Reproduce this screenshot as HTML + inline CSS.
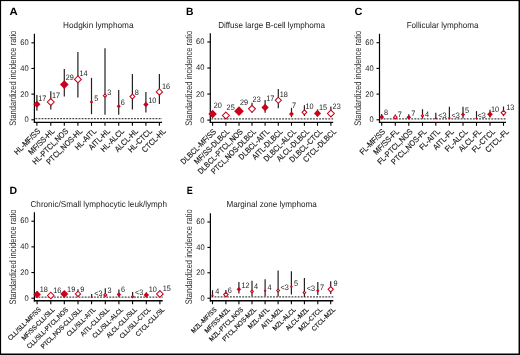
<!DOCTYPE html>
<html><head><meta charset="utf-8"><style>
html,body{margin:0;padding:0;background:#fff;}
svg{display:block;will-change:transform;text-rendering:geometricPrecision;}
</style></head><body>
<svg width="520" height="355" viewBox="0 0 520 355" font-family='"Liberation Sans", sans-serif'>
<rect x="0" y="0" width="520" height="355" fill="#fff"/>
<text transform="translate(9.5,14.7) scale(1.08,1)" font-size="10.5" font-weight="bold">A</text>
<text x="63.1" y="28.1" font-size="8.6" textLength="70.4" lengthAdjust="spacingAndGlyphs" fill="#222">Hodgkin lymphoma</text>
<text transform="translate(16.2,78.2) rotate(-90)" text-anchor="middle" font-size="9.5" textLength="95" lengthAdjust="spacingAndGlyphs" fill="#333">Standardized incidence ratio</text>
<line x1="34.4" y1="33.8" x2="34.4" y2="123.05" stroke="#000" stroke-width="1.2"/>
<line x1="33.8" y1="122.4" x2="162.1" y2="122.4" stroke="#000" stroke-width="1.3"/>
<line x1="31.4" y1="119.8" x2="34.4" y2="119.8" stroke="#000" stroke-width="1.1"/>
<text transform="translate(28.6,122.4) scale(0.93,1)" font-size="8.1" text-anchor="end" fill="#222">0</text>
<line x1="31.4" y1="94.14" x2="34.4" y2="94.14" stroke="#000" stroke-width="1.1"/>
<text transform="translate(28.6,96.74) scale(0.93,1)" font-size="8.1" text-anchor="end" fill="#222">20</text>
<line x1="31.4" y1="68.48" x2="34.4" y2="68.48" stroke="#000" stroke-width="1.1"/>
<text transform="translate(28.6,70.63) scale(0.93,1)" font-size="8.1" text-anchor="end" fill="#222">40</text>
<line x1="31.4" y1="42.82" x2="34.4" y2="42.82" stroke="#000" stroke-width="1.1"/>
<text transform="translate(28.6,44.97) scale(0.93,1)" font-size="8.1" text-anchor="end" fill="#222">60</text>
<line x1="35.4" y1="118.7" x2="162.1" y2="118.7" stroke="#4a4a4a" stroke-width="1.2" stroke-dasharray="1.9 1.18"/>
<line x1="36.9" y1="122.4" x2="36.9" y2="125.8" stroke="#000" stroke-width="1.1"/>
<text transform="translate(40.8,131.7) rotate(-45) scale(0.89,1)" text-anchor="end" font-size="8.0" fill="#111" stroke="#111" stroke-width="0.15">HL-MF/SS</text>
<line x1="36.9" y1="95" x2="36.9" y2="110.8" stroke="#222" stroke-width="1.2"/>
<path d="M36.9 100.65L40.45 104.2L36.9 107.75L33.35 104.2Z" fill="#cb0019"/>
<text transform="translate(38.19,101) scale(0.925,1)" font-size="7.9" fill="#222">17</text>
<line x1="50.8" y1="122.4" x2="50.8" y2="125.8" stroke="#000" stroke-width="1.1"/>
<text transform="translate(55.03,131.7) rotate(-45) scale(0.89,1)" text-anchor="end" font-size="8.0" fill="#111" stroke="#111" stroke-width="0.15">MF/SS-HL</text>
<line x1="50.8" y1="91.2" x2="50.8" y2="109.6" stroke="#222" stroke-width="1.2"/>
<path d="M50.8 98.55L54.25 102L50.8 105.45L47.35 102Z" fill="#fff" stroke="#cb0019" stroke-width="1.05"/>
<text transform="translate(51.89,98.3) scale(0.925,1)" font-size="7.9" fill="#222">17</text>
<line x1="64.3" y1="122.4" x2="64.3" y2="125.8" stroke="#000" stroke-width="1.1"/>
<text transform="translate(68.86,131.7) rotate(-45) scale(0.89,1)" text-anchor="end" font-size="8.0" fill="#111" stroke="#111" stroke-width="0.15">HL-PTCL,NOS</text>
<line x1="64.3" y1="69.1" x2="64.3" y2="96.5" stroke="#222" stroke-width="1.2"/>
<path d="M64.3 80.25L68.65 84.6L64.3 88.95L59.95 84.6Z" fill="#cb0019"/>
<text transform="translate(65.78,80.3) scale(0.925,1)" font-size="7.9" fill="#222">29</text>
<line x1="77.9" y1="122.4" x2="77.9" y2="125.8" stroke="#000" stroke-width="1.1"/>
<text transform="translate(82.79,131.7) rotate(-45) scale(0.89,1)" text-anchor="end" font-size="8.0" fill="#111" stroke="#111" stroke-width="0.15">PTCL,NOS-HL</text>
<line x1="77.9" y1="52" x2="77.9" y2="97.5" stroke="#222" stroke-width="1.2"/>
<path d="M77.9 75.95L81.35 79.4L77.9 82.85L74.45 79.4Z" fill="#fff" stroke="#cb0019" stroke-width="1.05"/>
<text transform="translate(79.49,76.2) scale(0.925,1)" font-size="7.9" fill="#222">14</text>
<line x1="91.5" y1="122.4" x2="91.5" y2="125.8" stroke="#000" stroke-width="1.1"/>
<text transform="translate(96.72,131.7) rotate(-45) scale(0.89,1)" text-anchor="end" font-size="8.0" fill="#111" stroke="#111" stroke-width="0.15">HL-AITL</text>
<line x1="91.5" y1="77.9" x2="91.5" y2="114.2" stroke="#222" stroke-width="1.2"/>
<path d="M91.5 100.15L93.25 101.9L91.5 103.65L89.75 101.9Z" fill="#cb0019"/>
<text transform="translate(94.36,100.6) scale(0.925,1)" font-size="7.9" fill="#222">5</text>
<line x1="105" y1="122.4" x2="105" y2="125.8" stroke="#000" stroke-width="1.1"/>
<text transform="translate(110.55,131.7) rotate(-45) scale(0.89,1)" text-anchor="end" font-size="8.0" fill="#111" stroke="#111" stroke-width="0.15">AITL-HL</text>
<line x1="105" y1="48.3" x2="105" y2="114.7" stroke="#222" stroke-width="1.2"/>
<path d="M105 94.05L106.65 95.7L105 97.35L103.35 95.7Z" fill="#fff" stroke="#cb0019" stroke-width="1.05"/>
<text transform="translate(107.27,94.8) scale(0.925,1)" font-size="7.9" fill="#222">3</text>
<line x1="118.7" y1="122.4" x2="118.7" y2="125.8" stroke="#000" stroke-width="1.1"/>
<text transform="translate(124.58,131.7) rotate(-45) scale(0.89,1)" text-anchor="end" font-size="8.0" fill="#111" stroke="#111" stroke-width="0.15">HL-ALCL</text>
<line x1="118.7" y1="90" x2="118.7" y2="114.7" stroke="#222" stroke-width="1.2"/>
<path d="M118.7 104.25L120.75 106.3L118.7 108.35L116.65 106.3Z" fill="#cb0019"/>
<text transform="translate(120.78,104.9) scale(0.925,1)" font-size="7.9" fill="#222">6</text>
<line x1="132.4" y1="122.4" x2="132.4" y2="125.8" stroke="#000" stroke-width="1.1"/>
<text transform="translate(138.61,131.7) rotate(-45) scale(0.89,1)" text-anchor="end" font-size="8.0" fill="#111" stroke="#111" stroke-width="0.15">ALCL-HL</text>
<line x1="132.4" y1="73.9" x2="132.4" y2="109.6" stroke="#222" stroke-width="1.2"/>
<path d="M132.4 94.15L134.85 96.6L132.4 99.05L129.95 96.6Z" fill="#fff" stroke="#cb0019" stroke-width="1.05"/>
<text transform="translate(134.64,95.1) scale(0.925,1)" font-size="7.9" fill="#222">8</text>
<line x1="145.9" y1="122.4" x2="145.9" y2="125.8" stroke="#000" stroke-width="1.1"/>
<text transform="translate(152.44,131.7) rotate(-45) scale(0.89,1)" text-anchor="end" font-size="8.0" fill="#111" stroke="#111" stroke-width="0.15">HL-CTCL</text>
<line x1="145.9" y1="91.9" x2="145.9" y2="112.4" stroke="#222" stroke-width="1.2"/>
<path d="M145.9 101.85L148.55 104.5L145.9 107.15L143.25 104.5Z" fill="#cb0019"/>
<text transform="translate(148.29,102.5) scale(0.925,1)" font-size="7.9" fill="#222">10</text>
<line x1="159.4" y1="122.4" x2="159.4" y2="125.8" stroke="#000" stroke-width="1.1"/>
<text transform="translate(166.27,131.7) rotate(-45) scale(0.89,1)" text-anchor="end" font-size="8.0" fill="#111" stroke="#111" stroke-width="0.15">CTCL-HL</text>
<line x1="159.4" y1="74.1" x2="159.4" y2="103.9" stroke="#222" stroke-width="1.2"/>
<path d="M159.4 88.75L162.55 91.9L159.4 95.05L156.25 91.9Z" fill="#fff" stroke="#cb0019" stroke-width="1.05"/>
<text transform="translate(161.99,88.9) scale(0.925,1)" font-size="7.9" fill="#222">16</text>
<text transform="translate(185.9,14.7) scale(0.98,1)" font-size="10.5" font-weight="bold">B</text>
<text x="218.2" y="28.1" font-size="8.6" textLength="106.7" lengthAdjust="spacingAndGlyphs" fill="#222">Diffuse large B-cell lymphoma</text>
<text transform="translate(192.4,78.3) rotate(-90)" text-anchor="middle" font-size="9.5" textLength="95" lengthAdjust="spacingAndGlyphs" fill="#333">Standardized incidence ratio</text>
<line x1="210.3" y1="33.2" x2="210.3" y2="122.95" stroke="#000" stroke-width="1.2"/>
<line x1="209.7" y1="122.3" x2="333.2" y2="122.3" stroke="#000" stroke-width="1.3"/>
<line x1="207.3" y1="120.1" x2="210.3" y2="120.1" stroke="#000" stroke-width="1.1"/>
<text transform="translate(204.5,122.7) scale(0.93,1)" font-size="8.1" text-anchor="end" fill="#222">0</text>
<line x1="207.3" y1="94.06" x2="210.3" y2="94.06" stroke="#000" stroke-width="1.1"/>
<text transform="translate(204.5,96.66) scale(0.93,1)" font-size="8.1" text-anchor="end" fill="#222">20</text>
<line x1="207.3" y1="68.02" x2="210.3" y2="68.02" stroke="#000" stroke-width="1.1"/>
<text transform="translate(204.5,70.17) scale(0.93,1)" font-size="8.1" text-anchor="end" fill="#222">40</text>
<line x1="207.3" y1="41.98" x2="210.3" y2="41.98" stroke="#000" stroke-width="1.1"/>
<text transform="translate(204.5,44.13) scale(0.93,1)" font-size="8.1" text-anchor="end" fill="#222">60</text>
<line x1="211.3" y1="118.9" x2="333.2" y2="118.9" stroke="#4a4a4a" stroke-width="1.2" stroke-dasharray="1.9 1.18"/>
<line x1="212.6" y1="122.3" x2="212.6" y2="125.7" stroke="#000" stroke-width="1.1"/>
<text transform="translate(216.6,132.1) rotate(-45) scale(0.875,1)" text-anchor="end" font-size="8.0" fill="#111" stroke="#111" stroke-width="0.15">DLBCL-MF/SS</text>
<line x1="212.6" y1="111" x2="212.6" y2="117" stroke="#222" stroke-width="1.2"/>
<path d="M212.6 109.75L216.85 114L212.6 118.25L208.35 114Z" fill="#cb0019"/>
<text transform="translate(213.68,107.9) scale(0.925,1)" font-size="7.9" fill="#222">20</text>
<line x1="225.9" y1="122.3" x2="225.9" y2="125.7" stroke="#000" stroke-width="1.1"/>
<text transform="translate(230.1,132.1) rotate(-45) scale(0.875,1)" text-anchor="end" font-size="8.0" fill="#111" stroke="#111" stroke-width="0.15">MF/SS-DLBCL</text>
<line x1="225.9" y1="113" x2="225.9" y2="118" stroke="#222" stroke-width="1.2"/>
<path d="M225.9 112.05L229.35 115.5L225.9 118.95L222.45 115.5Z" fill="#fff" stroke="#cb0019" stroke-width="1.05"/>
<text transform="translate(226.58,109.6) scale(0.925,1)" font-size="7.9" fill="#222">25</text>
<line x1="239" y1="122.3" x2="239" y2="125.7" stroke="#000" stroke-width="1.1"/>
<text transform="translate(243.4,132.1) rotate(-45) scale(0.875,1)" text-anchor="end" font-size="8.0" fill="#111" stroke="#111" stroke-width="0.15">DLBCL-PTCL,NOS</text>
<line x1="239" y1="108" x2="239" y2="114.5" stroke="#222" stroke-width="1.2"/>
<path d="M239 106.35L243.85 111.2L239 116.05L234.15 111.2Z" fill="#cb0019"/>
<text transform="translate(239.88,104.8) scale(0.925,1)" font-size="7.9" fill="#222">29</text>
<line x1="252" y1="122.3" x2="252" y2="125.7" stroke="#000" stroke-width="1.1"/>
<text transform="translate(256.6,132.1) rotate(-45) scale(0.875,1)" text-anchor="end" font-size="8.0" fill="#111" stroke="#111" stroke-width="0.15">PTCL,NOS-DLBCL</text>
<line x1="252" y1="102.7" x2="252" y2="112.7" stroke="#222" stroke-width="1.2"/>
<path d="M252 105.35L255.45 108.8L252 112.25L248.55 108.8Z" fill="#fff" stroke="#cb0019" stroke-width="1.05"/>
<text transform="translate(252.58,102.1) scale(0.925,1)" font-size="7.9" fill="#222">23</text>
<line x1="265.1" y1="122.3" x2="265.1" y2="125.7" stroke="#000" stroke-width="1.1"/>
<text transform="translate(269.9,132.1) rotate(-45) scale(0.875,1)" text-anchor="end" font-size="8.0" fill="#111" stroke="#111" stroke-width="0.15">DLBCL-AITL</text>
<line x1="265.1" y1="100" x2="265.1" y2="112.7" stroke="#222" stroke-width="1.2"/>
<path d="M265.1 103.85L268.75 107.5L265.1 111.15L261.45 107.5Z" fill="#cb0019"/>
<text transform="translate(266.19,100.5) scale(0.925,1)" font-size="7.9" fill="#222">17</text>
<line x1="278.3" y1="122.3" x2="278.3" y2="125.7" stroke="#000" stroke-width="1.1"/>
<text transform="translate(283.3,132.1) rotate(-45) scale(0.875,1)" text-anchor="end" font-size="8.0" fill="#111" stroke="#111" stroke-width="0.15">AITL-DLBCL</text>
<line x1="278.3" y1="88.9" x2="278.3" y2="108.2" stroke="#222" stroke-width="1.2"/>
<path d="M278.3 97.25L281.35 100.3L278.3 103.35L275.25 100.3Z" fill="#fff" stroke="#cb0019" stroke-width="1.05"/>
<text transform="translate(279.79,97.3) scale(0.925,1)" font-size="7.9" fill="#222">18</text>
<line x1="291.5" y1="122.3" x2="291.5" y2="125.7" stroke="#000" stroke-width="1.1"/>
<text transform="translate(296.7,132.1) rotate(-45) scale(0.875,1)" text-anchor="end" font-size="8.0" fill="#111" stroke="#111" stroke-width="0.15">DLBCL-ALCL</text>
<line x1="291.5" y1="107.8" x2="291.5" y2="117.2" stroke="#222" stroke-width="1.2"/>
<path d="M291.5 111.55L293.95 114L291.5 116.45L289.05 114Z" fill="#cb0019"/>
<text transform="translate(292.08,108.4) scale(0.925,1)" font-size="7.9" fill="#222">7</text>
<line x1="304.4" y1="122.3" x2="304.4" y2="125.7" stroke="#000" stroke-width="1.1"/>
<text transform="translate(309.8,132.1) rotate(-45) scale(0.875,1)" text-anchor="end" font-size="8.0" fill="#111" stroke="#111" stroke-width="0.15">ALCL-DLBCL</text>
<line x1="304.4" y1="105.2" x2="304.4" y2="115.9" stroke="#222" stroke-width="1.2"/>
<path d="M304.4 109.95L306.75 112.3L304.4 114.65L302.05 112.3Z" fill="#fff" stroke="#cb0019" stroke-width="1.05"/>
<text transform="translate(305.49,108.5) scale(0.925,1)" font-size="7.9" fill="#222">10</text>
<line x1="317.5" y1="122.3" x2="317.5" y2="125.7" stroke="#000" stroke-width="1.1"/>
<text transform="translate(323.1,132.1) rotate(-45) scale(0.875,1)" text-anchor="end" font-size="8.0" fill="#111" stroke="#111" stroke-width="0.15">DLBCL-CTCL</text>
<line x1="317.5" y1="109.4" x2="317.5" y2="116.4" stroke="#222" stroke-width="1.2"/>
<path d="M317.5 109.85L321.05 113.4L317.5 116.95L313.95 113.4Z" fill="#cb0019"/>
<text transform="translate(318.89,109.6) scale(0.925,1)" font-size="7.9" fill="#222">15</text>
<line x1="330.9" y1="122.3" x2="330.9" y2="125.7" stroke="#000" stroke-width="1.1"/>
<text transform="translate(336.7,132.1) rotate(-45) scale(0.875,1)" text-anchor="end" font-size="8.0" fill="#111" stroke="#111" stroke-width="0.15">CTCL-DLBCL</text>
<line x1="330.9" y1="106.5" x2="330.9" y2="116.9" stroke="#222" stroke-width="1.2"/>
<path d="M330.9 110.05L334.35 113.5L330.9 116.95L327.45 113.5Z" fill="#fff" stroke="#cb0019" stroke-width="1.05"/>
<text transform="translate(332.58,109.2) scale(0.925,1)" font-size="7.9" fill="#222">23</text>
<text transform="translate(354.5,14.7) scale(1.04,1)" font-size="10.5" font-weight="bold">C</text>
<text x="406.7" y="28.1" font-size="8.6" textLength="71.7" lengthAdjust="spacingAndGlyphs" fill="#222">Follicular lymphoma</text>
<text transform="translate(361,78.3) rotate(-90)" text-anchor="middle" font-size="9.5" textLength="95" lengthAdjust="spacingAndGlyphs" fill="#333">Standardized incidence ratio</text>
<line x1="379.5" y1="33.8" x2="379.5" y2="123.05" stroke="#000" stroke-width="1.2"/>
<line x1="378.9" y1="122.4" x2="506" y2="122.4" stroke="#000" stroke-width="1.3"/>
<line x1="376.5" y1="119.8" x2="379.5" y2="119.8" stroke="#000" stroke-width="1.1"/>
<text transform="translate(373.7,122.4) scale(0.93,1)" font-size="8.1" text-anchor="end" fill="#222">0</text>
<line x1="376.5" y1="94.1" x2="379.5" y2="94.1" stroke="#000" stroke-width="1.1"/>
<text transform="translate(373.7,96.7) scale(0.93,1)" font-size="8.1" text-anchor="end" fill="#222">20</text>
<line x1="376.5" y1="68.4" x2="379.5" y2="68.4" stroke="#000" stroke-width="1.1"/>
<text transform="translate(373.7,70.55) scale(0.93,1)" font-size="8.1" text-anchor="end" fill="#222">40</text>
<line x1="376.5" y1="42.7" x2="379.5" y2="42.7" stroke="#000" stroke-width="1.1"/>
<text transform="translate(373.7,44.85) scale(0.93,1)" font-size="8.1" text-anchor="end" fill="#222">60</text>
<line x1="380.5" y1="118.9" x2="506" y2="118.9" stroke="#4a4a4a" stroke-width="1.2" stroke-dasharray="1.9 1.18"/>
<line x1="381.7" y1="122.4" x2="381.7" y2="125.8" stroke="#000" stroke-width="1.1"/>
<text transform="translate(385.7,132.2) rotate(-45) scale(0.89,1)" text-anchor="end" font-size="8.0" fill="#111" stroke="#111" stroke-width="0.15">FL-MF/SS</text>
<line x1="381.7" y1="114.1" x2="381.7" y2="119" stroke="#222" stroke-width="1.2"/>
<path d="M381.7 114.55L384.15 117L381.7 119.45L379.25 117Z" fill="#cb0019"/>
<text transform="translate(383.94,115.3) scale(0.925,1)" font-size="7.9" fill="#222">8</text>
<line x1="395.3" y1="122.4" x2="395.3" y2="125.8" stroke="#000" stroke-width="1.1"/>
<text transform="translate(399.5,132.2) rotate(-45) scale(0.89,1)" text-anchor="end" font-size="8.0" fill="#111" stroke="#111" stroke-width="0.15">MF/SS-FL</text>
<line x1="395.3" y1="114.4" x2="395.3" y2="119" stroke="#222" stroke-width="1.2"/>
<path d="M395.3 115.45L397.05 117.2L395.3 118.95L393.55 117.2Z" fill="#fff" stroke="#cb0019" stroke-width="1.05"/>
<text transform="translate(397.68,117) scale(0.925,1)" font-size="7.9" fill="#222">7</text>
<line x1="408.8" y1="122.4" x2="408.8" y2="125.8" stroke="#000" stroke-width="1.1"/>
<text transform="translate(413.2,132.2) rotate(-45) scale(0.89,1)" text-anchor="end" font-size="8.0" fill="#111" stroke="#111" stroke-width="0.15">FL-PTCL,NOS</text>
<line x1="408.8" y1="114.3" x2="408.8" y2="119" stroke="#222" stroke-width="1.2"/>
<path d="M408.8 114.95L411.15 117.3L408.8 119.65L406.45 117.3Z" fill="#cb0019"/>
<text transform="translate(411.28,116.1) scale(0.925,1)" font-size="7.9" fill="#222">7</text>
<line x1="422.5" y1="122.4" x2="422.5" y2="125.8" stroke="#000" stroke-width="1.1"/>
<text transform="translate(427.1,132.2) rotate(-45) scale(0.89,1)" text-anchor="end" font-size="8.0" fill="#111" stroke="#111" stroke-width="0.15">PTCL,NOS-FL</text>
<line x1="422.5" y1="109.2" x2="422.5" y2="118.7" stroke="#222" stroke-width="1.2"/>
<path d="M422.5 114.65L423.65 115.8L422.5 116.95L421.35 115.8Z" fill="#fff" stroke="#cb0019" stroke-width="1.05"/>
<text transform="translate(425.08,116.7) scale(0.925,1)" font-size="7.9" fill="#222">4</text>
<line x1="435.8" y1="122.4" x2="435.8" y2="125.8" stroke="#000" stroke-width="1.1"/>
<text transform="translate(440.6,132.2) rotate(-45) scale(0.89,1)" text-anchor="end" font-size="8.0" fill="#111" stroke="#111" stroke-width="0.15">FL-AITL</text>
<line x1="435.8" y1="112.8" x2="435.8" y2="119" stroke="#222" stroke-width="1.2"/>
<path d="M435.8 116.95L437.05 118.2L435.8 119.45L434.55 118.2Z" fill="#cb0019"/>
<text transform="translate(438.19,117.5) scale(0.925,1)" font-size="7.9" fill="#222">&lt;3</text>
<line x1="449.4" y1="122.4" x2="449.4" y2="125.8" stroke="#000" stroke-width="1.1"/>
<text transform="translate(454.4,132.2) rotate(-45) scale(0.89,1)" text-anchor="end" font-size="8.0" fill="#111" stroke="#111" stroke-width="0.15">AITL-FL</text>
<line x1="449.4" y1="106.8" x2="449.4" y2="119" stroke="#222" stroke-width="1.2"/>
<path d="M449.4 117.45L450.05 118.1L449.4 118.75L448.75 118.1Z" fill="#fff" stroke="#cb0019" stroke-width="1.05"/>
<text transform="translate(451.39,117.5) scale(0.925,1)" font-size="7.9" fill="#222">&lt;3</text>
<line x1="463" y1="122.4" x2="463" y2="125.8" stroke="#000" stroke-width="1.1"/>
<text transform="translate(468.2,132.2) rotate(-45) scale(0.89,1)" text-anchor="end" font-size="8.0" fill="#111" stroke="#111" stroke-width="0.15">FL-ALCL</text>
<line x1="463" y1="106.8" x2="463" y2="118.2" stroke="#222" stroke-width="1.2"/>
<path d="M463 112.45L465.05 114.5L463 116.55L460.95 114.5Z" fill="#cb0019"/>
<text transform="translate(465.06,113.4) scale(0.925,1)" font-size="7.9" fill="#222">5</text>
<line x1="476.5" y1="122.4" x2="476.5" y2="125.8" stroke="#000" stroke-width="1.1"/>
<text transform="translate(481.9,132.2) rotate(-45) scale(0.89,1)" text-anchor="end" font-size="8.0" fill="#111" stroke="#111" stroke-width="0.15">ALCL-FL</text>
<line x1="476.5" y1="111.1" x2="476.5" y2="119" stroke="#222" stroke-width="1.2"/>
<path d="M476.5 118.1L477 118.6L476.5 119.1L476 118.6Z" fill="#fff" stroke="#cb0019" stroke-width="1.05"/>
<text transform="translate(477.59,117.6) scale(0.925,1)" font-size="7.9" fill="#222">&lt;3</text>
<line x1="490" y1="122.4" x2="490" y2="125.8" stroke="#000" stroke-width="1.1"/>
<text transform="translate(495.6,132.2) rotate(-45) scale(0.89,1)" text-anchor="end" font-size="8.0" fill="#111" stroke="#111" stroke-width="0.15">FL-CTCL</text>
<line x1="490" y1="109.8" x2="490" y2="117.5" stroke="#222" stroke-width="1.2"/>
<path d="M490 111.45L492.85 114.3L490 117.15L487.15 114.3Z" fill="#cb0019"/>
<text transform="translate(490.89,111.7) scale(0.925,1)" font-size="7.9" fill="#222">10</text>
<line x1="503.5" y1="122.4" x2="503.5" y2="125.8" stroke="#000" stroke-width="1.1"/>
<text transform="translate(509.3,132.2) rotate(-45) scale(0.89,1)" text-anchor="end" font-size="8.0" fill="#111" stroke="#111" stroke-width="0.15">CTCL-FL</text>
<line x1="503.5" y1="106.5" x2="503.5" y2="116.2" stroke="#222" stroke-width="1.2"/>
<path d="M503.5 110.45L505.85 112.8L503.5 115.15L501.15 112.8Z" fill="#fff" stroke="#cb0019" stroke-width="1.05"/>
<text transform="translate(506.19,110.4) scale(0.925,1)" font-size="7.9" fill="#222">13</text>
<text transform="translate(9.5,193.6) scale(1.0,1)" font-size="10.5" font-weight="bold">D</text>
<text x="30.5" y="207.3" font-size="8.6" textLength="136.4" lengthAdjust="spacingAndGlyphs" fill="#222">Chronic/Small lymphocytic leuk/lymph</text>
<text transform="translate(16.2,257.1) rotate(-90)" text-anchor="middle" font-size="9.5" textLength="95" lengthAdjust="spacingAndGlyphs" fill="#333">Standardized incidence ratio</text>
<line x1="34.4" y1="212.3" x2="34.4" y2="301.4" stroke="#000" stroke-width="1.2"/>
<line x1="33.8" y1="300.75" x2="162.7" y2="300.75" stroke="#000" stroke-width="1.6"/>
<line x1="31.4" y1="298.2" x2="34.4" y2="298.2" stroke="#000" stroke-width="1.1"/>
<text transform="translate(28.6,300.8) scale(0.93,1)" font-size="8.1" text-anchor="end" fill="#222">0</text>
<line x1="31.4" y1="272.54" x2="34.4" y2="272.54" stroke="#000" stroke-width="1.1"/>
<text transform="translate(28.6,275.14) scale(0.93,1)" font-size="8.1" text-anchor="end" fill="#222">20</text>
<line x1="31.4" y1="246.88" x2="34.4" y2="246.88" stroke="#000" stroke-width="1.1"/>
<text transform="translate(28.6,249.03) scale(0.93,1)" font-size="8.1" text-anchor="end" fill="#222">40</text>
<line x1="31.4" y1="221.22" x2="34.4" y2="221.22" stroke="#000" stroke-width="1.1"/>
<text transform="translate(28.6,223.37) scale(0.93,1)" font-size="8.1" text-anchor="end" fill="#222">60</text>
<line x1="35.4" y1="297.2" x2="162.7" y2="297.2" stroke="#4a4a4a" stroke-width="1.2" stroke-dasharray="1.9 1.18"/>
<line x1="37.1" y1="300.75" x2="37.1" y2="304.15" stroke="#000" stroke-width="1.1"/>
<text transform="translate(41.3,310.05) rotate(-45) scale(0.895,1)" text-anchor="end" font-size="6.7" fill="#111" stroke="#111" stroke-width="0.15">CLL/SLL-MF/SS</text>
<line x1="37.1" y1="291" x2="37.1" y2="297.5" stroke="#222" stroke-width="1.2"/>
<path d="M37.1 290.65L40.85 294.4L37.1 298.15L33.35 294.4Z" fill="#cb0019"/>
<text transform="translate(39.69,291.9) scale(0.925,1)" font-size="7.9" fill="#222">18</text>
<line x1="50.8" y1="300.75" x2="50.8" y2="304.15" stroke="#000" stroke-width="1.1"/>
<text transform="translate(55.08,310.05) rotate(-45) scale(0.895,1)" text-anchor="end" font-size="6.7" fill="#111" stroke="#111" stroke-width="0.15">MF/SS-CLL/SLL</text>
<line x1="50.8" y1="293" x2="50.8" y2="298" stroke="#222" stroke-width="1.2"/>
<path d="M50.8 292.25L54.05 295.5L50.8 298.75L47.55 295.5Z" fill="#fff" stroke="#cb0019" stroke-width="1.05"/>
<text transform="translate(53.29,293.2) scale(0.925,1)" font-size="7.9" fill="#222">16</text>
<line x1="64.3" y1="300.75" x2="64.3" y2="304.15" stroke="#000" stroke-width="1.1"/>
<text transform="translate(68.66,310.05) rotate(-45) scale(0.895,1)" text-anchor="end" font-size="6.7" fill="#111" stroke="#111" stroke-width="0.15">CLL/SLL-PTCL,NOS</text>
<line x1="64.3" y1="291" x2="64.3" y2="297" stroke="#222" stroke-width="1.2"/>
<path d="M64.3 289.95L68.35 294L64.3 298.05L60.25 294Z" fill="#cb0019"/>
<text transform="translate(67.09,291.5) scale(0.925,1)" font-size="7.9" fill="#222">19</text>
<line x1="78" y1="300.75" x2="78" y2="304.15" stroke="#000" stroke-width="1.1"/>
<text transform="translate(82.44,310.05) rotate(-45) scale(0.895,1)" text-anchor="end" font-size="6.7" fill="#111" stroke="#111" stroke-width="0.15">PTCL,NOS-CLL/SLL</text>
<line x1="78" y1="289.3" x2="78" y2="297" stroke="#222" stroke-width="1.2"/>
<path d="M78 291.25L80.65 293.9L78 296.55L75.35 293.9Z" fill="#fff" stroke="#cb0019" stroke-width="1.05"/>
<text transform="translate(80.31,291.8) scale(0.925,1)" font-size="7.9" fill="#222">9</text>
<line x1="91.6" y1="300.75" x2="91.6" y2="304.15" stroke="#000" stroke-width="1.1"/>
<text transform="translate(96.12,310.05) rotate(-45) scale(0.895,1)" text-anchor="end" font-size="6.7" fill="#111" stroke="#111" stroke-width="0.15">CLL/SLL-AITL</text>
<line x1="91.6" y1="294" x2="91.6" y2="297.5" stroke="#222" stroke-width="1.2"/>
<path d="M91.6 295.95L92.75 297.1L91.6 298.25L90.45 297.1Z" fill="#cb0019"/>
<text transform="translate(94.19,295.6) scale(0.925,1)" font-size="7.9" fill="#222">&lt;3</text>
<line x1="105.3" y1="300.75" x2="105.3" y2="304.15" stroke="#000" stroke-width="1.1"/>
<text transform="translate(109.9,310.05) rotate(-45) scale(0.895,1)" text-anchor="end" font-size="6.7" fill="#111" stroke="#111" stroke-width="0.15">AITL-CLL/SLL</text>
<line x1="105.3" y1="288.2" x2="105.3" y2="297" stroke="#222" stroke-width="1.2"/>
<path d="M105.3 293.35L106.85 294.9L105.3 296.45L103.75 294.9Z" fill="#fff" stroke="#cb0019" stroke-width="1.05"/>
<text transform="translate(107.47,293.1) scale(0.925,1)" font-size="7.9" fill="#222">3</text>
<line x1="118.9" y1="300.75" x2="118.9" y2="304.15" stroke="#000" stroke-width="1.1"/>
<text transform="translate(123.58,310.05) rotate(-45) scale(0.895,1)" text-anchor="end" font-size="6.7" fill="#111" stroke="#111" stroke-width="0.15">CLL/SLL-ALCL</text>
<line x1="118.9" y1="289.5" x2="118.9" y2="297" stroke="#222" stroke-width="1.2"/>
<path d="M118.9 292.15L121.15 294.4L118.9 296.65L116.65 294.4Z" fill="#cb0019"/>
<text transform="translate(120.98,291.9) scale(0.925,1)" font-size="7.9" fill="#222">6</text>
<line x1="132.6" y1="300.75" x2="132.6" y2="304.15" stroke="#000" stroke-width="1.1"/>
<text transform="translate(137.36,310.05) rotate(-45) scale(0.895,1)" text-anchor="end" font-size="6.7" fill="#111" stroke="#111" stroke-width="0.15">ALCL-CLL/SLL</text>
<line x1="132.6" y1="291.9" x2="132.6" y2="297.5" stroke="#222" stroke-width="1.2"/>
<path d="M132.6 295.65L133.65 296.7L132.6 297.75L131.55 296.7Z" fill="#fff" stroke="#cb0019" stroke-width="1.05"/>
<text transform="translate(135.09,294.8) scale(0.925,1)" font-size="7.9" fill="#222">&lt;3</text>
<line x1="146.3" y1="300.75" x2="146.3" y2="304.15" stroke="#000" stroke-width="1.1"/>
<text transform="translate(151.14,310.05) rotate(-45) scale(0.895,1)" text-anchor="end" font-size="6.7" fill="#111" stroke="#111" stroke-width="0.15">CLL/SLL-CTCL</text>
<line x1="146.3" y1="292.5" x2="146.3" y2="297.5" stroke="#222" stroke-width="1.2"/>
<path d="M146.3 292.35L149.05 295.1L146.3 297.85L143.55 295.1Z" fill="#cb0019"/>
<text transform="translate(148.79,291.6) scale(0.925,1)" font-size="7.9" fill="#222">10</text>
<line x1="159.9" y1="300.75" x2="159.9" y2="304.15" stroke="#000" stroke-width="1.1"/>
<text transform="translate(164.82,310.05) rotate(-45) scale(0.895,1)" text-anchor="end" font-size="6.7" fill="#111" stroke="#111" stroke-width="0.15">CTCL-CLL/SL</text>
<line x1="159.9" y1="291" x2="159.9" y2="297" stroke="#222" stroke-width="1.2"/>
<path d="M159.9 290.55L163.25 293.9L159.9 297.25L156.55 293.9Z" fill="#fff" stroke="#cb0019" stroke-width="1.05"/>
<text transform="translate(162.69,290.6) scale(0.925,1)" font-size="7.9" fill="#222">15</text>
<text transform="translate(186.8,193.6) scale(0.86,1)" font-size="10.5" font-weight="bold">E</text>
<text x="226.4" y="207.4" font-size="8.6" textLength="90.4" lengthAdjust="spacingAndGlyphs" fill="#222">Marginal zone lymphoma</text>
<text transform="translate(192.4,256.8) rotate(-90)" text-anchor="middle" font-size="9.5" textLength="95" lengthAdjust="spacingAndGlyphs" fill="#333">Standardized incidence ratio</text>
<line x1="210.4" y1="213.2" x2="210.4" y2="301.45" stroke="#000" stroke-width="1.2"/>
<line x1="209.8" y1="300.8" x2="333.3" y2="300.8" stroke="#000" stroke-width="1.6"/>
<line x1="207.4" y1="298.2" x2="210.4" y2="298.2" stroke="#000" stroke-width="1.1"/>
<text transform="translate(204.6,300.8) scale(0.93,1)" font-size="8.1" text-anchor="end" fill="#222">0</text>
<line x1="207.4" y1="272.8" x2="210.4" y2="272.8" stroke="#000" stroke-width="1.1"/>
<text transform="translate(204.6,275.4) scale(0.93,1)" font-size="8.1" text-anchor="end" fill="#222">20</text>
<line x1="207.4" y1="247.4" x2="210.4" y2="247.4" stroke="#000" stroke-width="1.1"/>
<text transform="translate(204.6,249.55) scale(0.93,1)" font-size="8.1" text-anchor="end" fill="#222">40</text>
<line x1="207.4" y1="222" x2="210.4" y2="222" stroke="#000" stroke-width="1.1"/>
<text transform="translate(204.6,224.15) scale(0.93,1)" font-size="8.1" text-anchor="end" fill="#222">60</text>
<line x1="211.4" y1="296.8" x2="333.3" y2="296.8" stroke="#4a4a4a" stroke-width="1.2" stroke-dasharray="1.9 1.18"/>
<line x1="212.5" y1="300.8" x2="212.5" y2="304.2" stroke="#000" stroke-width="1.1"/>
<text transform="translate(217.1,310.1) rotate(-45) scale(0.915,1)" text-anchor="end" font-size="6.7" fill="#111" stroke="#111" stroke-width="0.15">MZL-MF/SS</text>
<line x1="212.5" y1="290.2" x2="212.5" y2="297" stroke="#222" stroke-width="1.2"/>
<path d="M212.5 294L213.8 295.3L212.5 296.6L211.2 295.3Z" fill="#cb0019"/>
<text transform="translate(215.28,294.4) scale(0.925,1)" font-size="7.9" fill="#222">4</text>
<line x1="225.9" y1="300.8" x2="225.9" y2="304.2" stroke="#000" stroke-width="1.1"/>
<text transform="translate(230.53,310.1) rotate(-45) scale(0.915,1)" text-anchor="end" font-size="6.7" fill="#111" stroke="#111" stroke-width="0.15">MF/SS-MZL</text>
<line x1="225.9" y1="290" x2="225.9" y2="297" stroke="#222" stroke-width="1.2"/>
<path d="M225.9 292.35L228.15 294.6L225.9 296.85L223.65 294.6Z" fill="#fff" stroke="#cb0019" stroke-width="1.05"/>
<text transform="translate(227.78,292.5) scale(0.925,1)" font-size="7.9" fill="#222">6</text>
<line x1="238.9" y1="300.8" x2="238.9" y2="304.2" stroke="#000" stroke-width="1.1"/>
<text transform="translate(243.56,310.1) rotate(-45) scale(0.915,1)" text-anchor="end" font-size="6.7" fill="#111" stroke="#111" stroke-width="0.15">MZL-PTCL,NOS</text>
<line x1="238.9" y1="282.1" x2="238.9" y2="293.6" stroke="#222" stroke-width="1.2"/>
<path d="M238.9 286.95L241.15 289.2L238.9 291.45L236.65 289.2Z" fill="#cb0019"/>
<text transform="translate(241.39,288) scale(0.925,1)" font-size="7.9" fill="#222">12</text>
<line x1="252" y1="300.8" x2="252" y2="304.2" stroke="#000" stroke-width="1.1"/>
<text transform="translate(256.69,310.1) rotate(-45) scale(0.915,1)" text-anchor="end" font-size="6.7" fill="#111" stroke="#111" stroke-width="0.15">PTCL,NOS-MZL</text>
<line x1="252" y1="280.7" x2="252" y2="296.3" stroke="#222" stroke-width="1.2"/>
<path d="M252 290.05L253.35 291.4L252 292.75L250.65 291.4Z" fill="#fff" stroke="#cb0019" stroke-width="1.05"/>
<text transform="translate(253.98,289) scale(0.925,1)" font-size="7.9" fill="#222">4</text>
<line x1="265.1" y1="300.8" x2="265.1" y2="304.2" stroke="#000" stroke-width="1.1"/>
<text transform="translate(269.82,310.1) rotate(-45) scale(0.915,1)" text-anchor="end" font-size="6.7" fill="#111" stroke="#111" stroke-width="0.15">MZL-AITL</text>
<line x1="265.1" y1="279.2" x2="265.1" y2="296.2" stroke="#222" stroke-width="1.2"/>
<path d="M265.1 289.45L266.45 290.8L265.1 292.15L263.75 290.8Z" fill="#cb0019"/>
<text transform="translate(267.58,290.1) scale(0.925,1)" font-size="7.9" fill="#222">4</text>
<line x1="278.1" y1="300.8" x2="278.1" y2="304.2" stroke="#000" stroke-width="1.1"/>
<text transform="translate(282.85,310.1) rotate(-45) scale(0.915,1)" text-anchor="end" font-size="6.7" fill="#111" stroke="#111" stroke-width="0.15">AITL-MZL</text>
<line x1="278.1" y1="270.6" x2="278.1" y2="296.5" stroke="#222" stroke-width="1.2"/>
<path d="M278.1 289.15L279.55 290.6L278.1 292.05L276.65 290.6Z" fill="#fff" stroke="#cb0019" stroke-width="1.05"/>
<text transform="translate(280.59,290.1) scale(0.925,1)" font-size="7.9" fill="#222">&lt;3</text>
<line x1="291.4" y1="300.8" x2="291.4" y2="304.2" stroke="#000" stroke-width="1.1"/>
<text transform="translate(296.18,310.1) rotate(-45) scale(0.915,1)" text-anchor="end" font-size="6.7" fill="#111" stroke="#111" stroke-width="0.15">MZL-ALCL</text>
<line x1="291.4" y1="271.3" x2="291.4" y2="294.5" stroke="#222" stroke-width="1.2"/>
<path d="M291.4 285.35L292.85 286.8L291.4 288.25L289.95 286.8Z" fill="#cb0019"/>
<text transform="translate(293.96,286.3) scale(0.925,1)" font-size="7.9" fill="#222">5</text>
<line x1="304.4" y1="300.8" x2="304.4" y2="304.2" stroke="#000" stroke-width="1.1"/>
<text transform="translate(309.21,310.1) rotate(-45) scale(0.915,1)" text-anchor="end" font-size="6.7" fill="#111" stroke="#111" stroke-width="0.15">ALCL-MZL</text>
<line x1="304.4" y1="278" x2="304.4" y2="297.1" stroke="#222" stroke-width="1.2"/>
<path d="M304.4 291.25L305.75 292.6L304.4 293.95L303.05 292.6Z" fill="#fff" stroke="#cb0019" stroke-width="1.05"/>
<text transform="translate(306.79,291.3) scale(0.925,1)" font-size="7.9" fill="#222">&lt;3</text>
<line x1="317.8" y1="300.8" x2="317.8" y2="304.2" stroke="#000" stroke-width="1.1"/>
<text transform="translate(322.64,310.1) rotate(-45) scale(0.915,1)" text-anchor="end" font-size="6.7" fill="#111" stroke="#111" stroke-width="0.15">MZL-CTCL</text>
<line x1="317.8" y1="281.9" x2="317.8" y2="294.9" stroke="#222" stroke-width="1.2"/>
<path d="M317.8 289.05L319.45 290.7L317.8 292.35L316.15 290.7Z" fill="#cb0019"/>
<text transform="translate(319.88,290) scale(0.925,1)" font-size="7.9" fill="#222">7</text>
<line x1="330.7" y1="300.8" x2="330.7" y2="304.2" stroke="#000" stroke-width="1.1"/>
<text transform="translate(335.57,310.1) rotate(-45) scale(0.915,1)" text-anchor="end" font-size="6.7" fill="#111" stroke="#111" stroke-width="0.15">CTCL-MZL</text>
<line x1="330.7" y1="281.3" x2="330.7" y2="294.1" stroke="#222" stroke-width="1.2"/>
<path d="M330.7 286.65L333.35 289.3L330.7 291.95L328.05 289.3Z" fill="#fff" stroke="#cb0019" stroke-width="1.05"/>
<text transform="translate(333.51,286) scale(0.925,1)" font-size="7.9" fill="#222">9</text>
<rect x="0" y="0" width="520" height="1.1" fill="#000"/><rect x="0" y="0" width="1.1" height="355" fill="#000"/><rect x="518.55" y="0" width="1.45" height="355" fill="#000"/><rect x="0" y="353.5" width="520" height="1.5" fill="#000"/>
</svg>
</body></html>
